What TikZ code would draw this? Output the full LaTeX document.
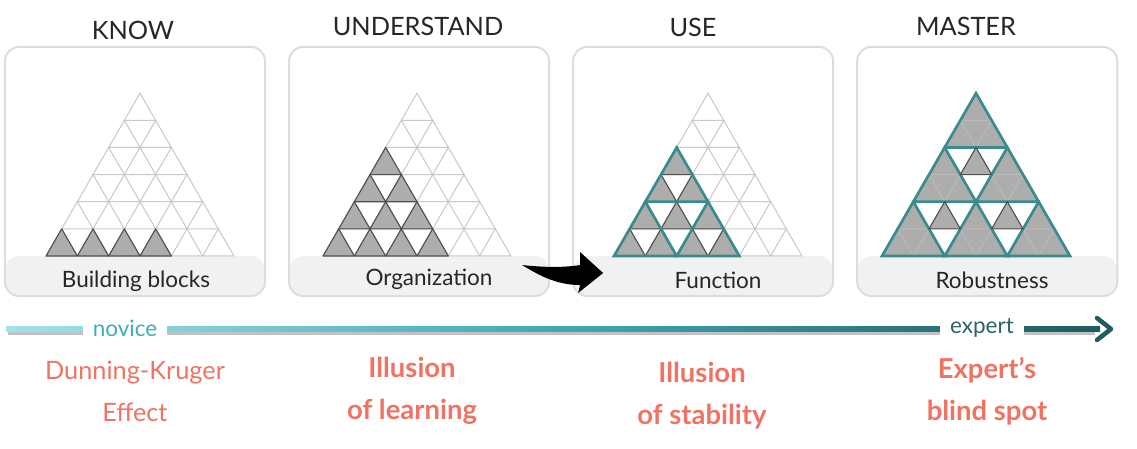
\documentclass[tikz,border=0pt]{standalone}
\usepackage{fontspec}
\setmainfont{Lato}
\usepackage{tikz}
\usetikzlibrary{arrows.meta,positioning,calc}
\definecolor{PanelEdge}{HTML}{DDDDDD}
\definecolor{PanelBand}{HTML}{F1F1F1}
\definecolor{GridGray}{HTML}{C8C8C8}
\definecolor{BlockGray}{HTML}{ADADAD}
\definecolor{BlockEdge}{HTML}{505050}
\definecolor{InnerGray}{HTML}{BBBBBB}
\definecolor{Teal}{HTML}{3A8C8C}
\definecolor{LineCyan}{HTML}{A2E2EA}
\definecolor{LineMid}{HTML}{3FA9B0}
\definecolor{LineDark}{HTML}{1E5C60}
\definecolor{Salmon}{HTML}{F07262}
\definecolor{NoviceCyan}{HTML}{3DAFB8}
\definecolor{ExpertTeal}{HTML}{2B6568}

% small block: row #1, position #2, style #3
\newcommand{\smalltri}[3]{\draw[#3] ({(2*#2-#1-1)*15.665},{(#1-1)*27.13}) -- ++(15.665,27.13) -- ++(-31.33,0) -- cycle;}
% double block outline
\newcommand{\bigtri}[3]{\draw[#3] ({(2*#2-#1-1)*15.665},{(#1-1)*27.13}) -- ++(31.33,54.26) -- ++(-62.66,0) -- cycle;}
% double block filled, with faint inner lines
\newcommand{\bigfill}[2]{%
  \fill[BlockGray] ({(2*#2-#1-1)*15.665},{(#1-1)*27.13}) -- ++(31.33,54.26) -- ++(-62.66,0) -- cycle;
  \draw[InnerGray,line width=0.6pt] ({(2*#2-#1-1)*15.665},{(#1-1)*27.13}) ++(-15.665,27.13) -- ++(31.33,0) -- ++(-15.665,27.13) -- cycle;}

\begin{document}
\begin{tikzpicture}[x=0.025cm,y=-0.025cm,
    panel/.style={draw=PanelEdge,line width=1.4pt,rounded corners=10pt,fill=white,outer sep=0pt,
      minimum width=6.5cm,minimum height=6.225cm,
      path picture={\fill[PanelBand] (path picture bounding box.south west) rectangle ([yshift=1cm]path picture bounding box.south east);}},
    head/.style={font=\fontsize{18}{20}\selectfont,text=black!85,anchor=base},
    foot/.style={font=\fontsize{16}{18}\selectfont,text=black!85,anchor=base},
    effect/.style={font=\fontsize{18}{30}\selectfont,text=Salmon,align=center},
    effectb/.style={font=\fontsize{19.5}{30}\selectfont\bfseries,text=Salmon,align=center},
    level/.style={fill=white,inner xsep=7pt,inner ysep=5pt,font=\fontsize{16}{18}\selectfont},
    grid/.style={draw=GridGray,line width=0.7pt},
    block/.style={fill=BlockGray,draw=BlockEdge,line width=0.8pt,line join=round},
    tealline/.style={draw=Teal,line width=1.9pt}
  ]
  \useasboundingbox (0,0) rectangle (1137,448);

  % panels
  \node[panel] (know) at (135,171.5) {};
  \node[panel,right=0.6cm of know] (understand) {};
  \node[panel,right=0.6cm of understand] (use) {};
  \node[panel,right=0.6cm of use] (master) {};

  \node[head] (hknow) at (133,39) {KNOW};
  \node[head] (hunder) at (418,35) {UNDERSTAND};
  \node[head] (huse) at (693,36) {USE};
  \node[head] (hmaster) at (966,35) {MASTER};

  \node[foot] (fknow) at (136,287) {Building blocks};
  \node[foot] (funder) at (429,285) {Organization};
  \node[foot] (fuse) at (718,288) {Function};
  \node[foot] (fmaster) at (992,288) {Robustness};

  % KNOW pyramid
  \begin{scope}[shift={(140,93.2)}]
    \foreach \r in {1,...,6}
      \foreach \p in {1,...,\r} {\smalltri{\r}{\p}{grid}}
    \foreach \p in {1,...,4} {\smalltri{6}{\p}{block}}
  \end{scope}

  % UNDERSTAND pyramid
  \begin{scope}[shift={(417,93.2)}]
    \foreach \r in {1,...,6}
      \foreach \p in {1,...,\r} {\smalltri{\r}{\p}{grid}}
    \foreach \r [evaluate=\r as \n using int(\r-2)] in {3,...,6}
      \foreach \p in {1,...,\n} {\smalltri{\r}{\p}{block}}
  \end{scope}

  % USE pyramid
  \begin{scope}[shift={(708,93.2)}]
    \foreach \r in {1,...,6}
      \foreach \p in {1,...,\r} {\smalltri{\r}{\p}{grid}}
    \foreach \r [evaluate=\r as \n using int(\r-2)] in {3,...,6}
      \foreach \p in {1,...,\n} {\smalltri{\r}{\p}{block}}
    \foreach \r/\p in {3/1,5/1,5/3} {\bigtri{\r}{\p}{tealline}}
  \end{scope}

  % MASTER pyramid
  \begin{scope}[shift={(976,93.2)}]
    \foreach \r/\p in {1/1,3/1,3/3,5/1,5/3,5/5} {\bigfill{\r}{\p}\bigtri{\r}{\p}{tealline}}
    \foreach \r/\p in {3/2,5/2,5/4} {\smalltri{\r}{\p}{block}}
  \end{scope}

  % jump from organization to function
  \coordinate (tail) at ($(understand.south east)+(-27,-31)$);
  \coordinate (tip) at ($(use.south west)+(30,-23)$);
  \fill (tail) .. controls +(20,2) and +(-20,3) .. ($(tip)+(-23,-8)$)
    -- ($(tip)+(-23,-21)$) -- (tip) -- ($(tip)+(-25,20)$) -- ($(tip)+(-23,12)$)
    .. controls +(-25,0) and +(15,9) .. (tail) -- cycle;

  % novice -> expert axis
  \coordinate (tstart) at (6,329);
  \coordinate (tend) at (1111,329);
  \fill[black!40,opacity=0.6] (8,331) rectangle (1095,334.5);
  \shade[left color=LineCyan,right color=LineMid] (tstart) ++(0,-2.5) rectangle (560,331);
  \shade[left color=LineMid,right color=LineDark] (560,326.5) rectangle (1100,331);
  \draw[LineDark,line width=3.2pt,line cap=round,line join=round] (1097,318) -- (tend) -- (1097,340);
  \node[level,text=NoviceCyan] (novice) at (125,328) {novice};
  \node[level,text=ExpertTeal] (expert) at (982,328) {expert};

  % effects
  \node[effect] (dk) at (135,391) {Dunning-Kruger\\Effect};
  \node[effectb] (ilearn) at (412,391) {Illusion\\of learning};
  \node[effectb] (istab) at (702,396) {Illusion\\of stability};
  \node[effectb] (blind) at (987,391) {Expert's\\blind spot};
\end{tikzpicture}
\end{document}
